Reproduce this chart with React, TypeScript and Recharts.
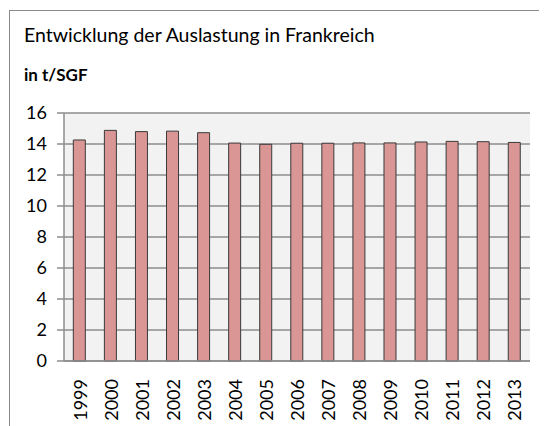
import React from 'react';
import { BarChart, Bar, XAxis, YAxis, CartesianGrid } from 'recharts';

const years: string[] = [
  '1999', '2000', '2001', '2002', '2003', '2004', '2005', '2006',
  '2007', '2008', '2009', '2010', '2011', '2012', '2013',
];

const auslastung: number[] = [
  14.26, 14.88, 14.8, 14.83, 14.73, 14.06, 13.98, 14.05,
  14.05, 14.07, 14.07, 14.13, 14.17, 14.15, 14.1,
];

const yTicks: number[] = [0, 2, 4, 6, 8, 10, 12, 14, 16];

const chartData = years.map((year, i) => ({ year, value: auslastung[i] }));

const FONT = 'Lato, Carlito, Calibri, sans-serif';

const YearTick = (props: any) => {
  const { x, y, payload } = props;
  return (
    <text
      x={x}
      y={y}
      transform={`rotate(-90, ${x}, ${y})`}
      textAnchor="end"
      dominantBaseline="central"
      fontFamily={FONT}
      fontSize={18}
      fill="#000"
    >
      {payload.value}
    </text>
  );
};

const App: React.FC = () => {
  return (
    <div
      style={{
        position: 'relative',
        width: 539,
        height: 418,
        overflow: 'hidden',
        fontFamily: FONT,
      }}
    >
      <div
        style={{
          position: 'absolute',
          left: 1,
          top: 2,
          width: 700,
          height: 600,
          border: '1px solid #8a8a8a',
          background: '#fff',
        }}
      />
      <div style={{ position: 'absolute', left: 16, top: 15, fontSize: 19.5, color: '#000' }}>
        Entwicklung der Auslastung in Frankreich
      </div>
      <div
        style={{ position: 'absolute', left: 16, top: 56, fontSize: 17, fontWeight: 'bold', color: '#000' }}
      >
        in t/SGF
      </div>
      <div style={{ position: 'absolute', left: 0, top: 0 }}>
        <BarChart
          width={539}
          height={418}
          data={chartData}
          margin={{ top: 105, right: 17, bottom: 0, left: 0 }}
          barCategoryGap="30%"
        >
          <CartesianGrid
            vertical={false}
            fill="#f2f2f2"
            stroke="#8c8c8c"
            strokeWidth={1.5}
          />
          <XAxis
            dataKey="year"
            interval={0}
            tickLine={false}
            axisLine={{ stroke: '#8c8c8c', strokeWidth: 1.5 }}
            tick={<YearTick />}
            tickMargin={12}
            height={65}
          />
          <YAxis
            domain={[0, 16]}
            ticks={yTicks}
            interval={0}
            width={56}
            tickSize={7}
            tickMargin={10}
            axisLine={{ stroke: '#8c8c8c', strokeWidth: 1.5 }}
            tickLine={{ stroke: '#8c8c8c', strokeWidth: 1.5 }}
            tick={{ fontFamily: FONT, fontSize: 18, fill: '#000' }}
          />
          <Bar
            dataKey="value"
            fill="#d99694"
            stroke="#3a3a3a"
            strokeWidth={1}
            isAnimationActive={false}
          />
        </BarChart>
      </div>
    </div>
  );
};

export default App;
